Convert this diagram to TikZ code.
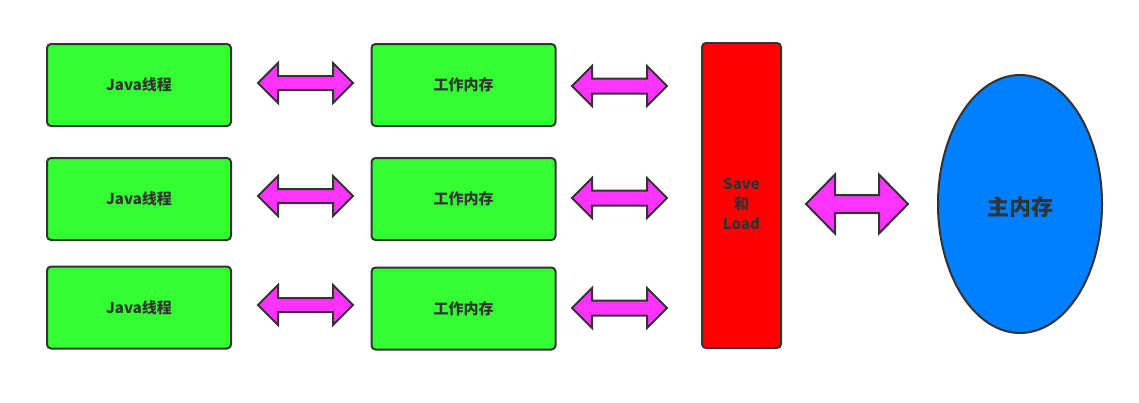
\documentclass[tikz,border=0pt]{standalone}
\usepackage{fontspec}
\newfontfamily\cjk{Noto Sans CJK SC}
\usetikzlibrary{shapes.geometric}
\definecolor{boxgreen}{HTML}{33FF33}
\definecolor{boxred}{HTML}{FF0000}
\definecolor{boxblue}{HTML}{007FFF}
\definecolor{arrmag}{HTML}{FF33FF}
\definecolor{edge}{HTML}{333333}
\newcommand\dblarr[6]{%
\draw[darr] (#1,#3) -- (#1+#4,#3-#6) -- (#1+#4,#3-#5) -- (#2-#4,#3-#5) -- (#2-#4,#3-#6) -- (#2,#3) -- (#2-#4,#3+#6) -- (#2-#4,#3+#5) -- (#1+#4,#3+#5) -- (#1+#4,#3+#6) -- cycle;}
\begin{document}
\begin{tikzpicture}[x=1pt,y=-1pt,
  txt/.style={font=\cjk\bfseries\fontsize{15}{20}\selectfont, text=edge, align=center, inner sep=0pt},
  box/.style={draw=edge, line width=2pt, rounded corners=4pt, txt},
  javabox/.style={box, fill=boxgreen, minimum width=184pt, minimum height=82pt},
  slbox/.style={box, fill=boxred, minimum width=79pt, minimum height=305pt},
  mainmem/.style={ellipse, draw=edge, line width=2pt, fill=boxblue, minimum width=164pt, minimum height=258pt, inner sep=0pt},
  darr/.style={draw=edge, line width=2pt, fill=arrmag, line join=miter}]
\useasboundingbox (0,0) rectangle (1139,402);
\fill[white] (0,0) rectangle (1139,402);
\node[javabox] (j1) at (139,85) {Java线程};
\node[javabox] (j2) at (139,199) {Java线程};
\node[javabox] (j3) at (139,307.5) {Java线程};
\node[javabox] (w1) at (463.5,85) {工作内存};
\node[javabox] (w2) at (463.5,199) {工作内存};
\node[javabox] (w3) at (463.5,308.5) {工作内存};
\node[slbox] (sl) at (741.5,195.5) {};
\node[txt] (sltext) at (741.5,204) {Save\\和\\Load};
\node[mainmem] (mm) at (1020,204) {};
\node[txt, font=\cjk\bfseries\fontsize{22}{24}\selectfont] (mmtext) at (1020,207) {主内存};
\dblarr{258}{353}{83}{20}{7}{20}
\dblarr{258}{353}{196}{20}{7}{20}
\dblarr{258}{353}{305}{20}{7}{20}
\dblarr{572}{667}{86}{20}{7.5}{20}
\dblarr{572}{667}{198}{20}{7.5}{20}
\dblarr{572}{667}{308}{20}{7.5}{20}
\dblarr{806}{908}{204}{29}{9}{29.5}
\end{tikzpicture}
\end{document}
